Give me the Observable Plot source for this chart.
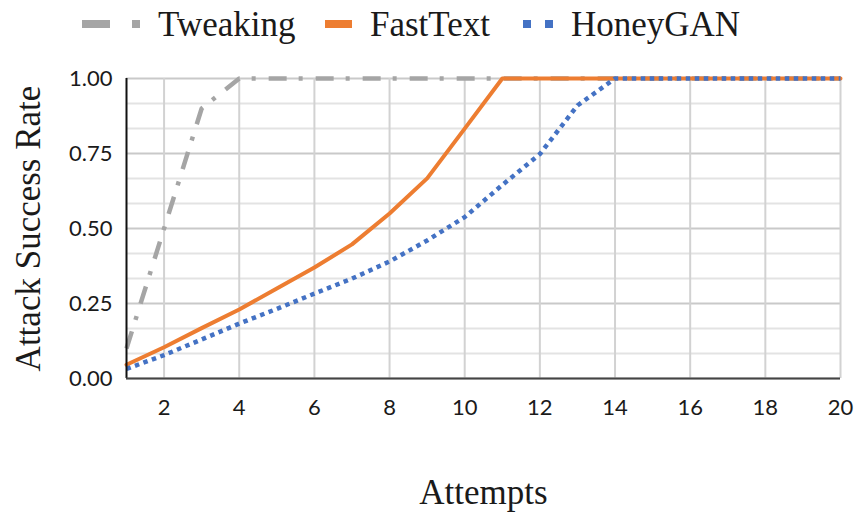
<!DOCTYPE html>
<html>
<head>
<meta charset="utf-8">
<script src="https://cdn.jsdelivr.net/npm/d3@7"></script>
<script src="https://cdn.jsdelivr.net/npm/@observablehq/plot@0.6"></script>
<style>
  html, body { margin: 0; padding: 0; background: #fff; }
  #legend { display: block; }
  #legend text { font-family: "Liberation Serif", "Times New Roman", serif; font-size: 35px; fill: #1a1a1a; }
  #chart svg { display: block; }
</style>
</head>
<body>
<svg id="legend" width="858" height="55"></svg>
<div id="chart"></div>
<script>
const attempts = [1,2,3,4,5,6,7,8,9,10,11,12,13,14,15,16,17,18,19,20];
const tweaking = [0.10,0.50,0.90,1,1,1,1,1,1,1,1,1,1,1,1,1,1,1,1,1];
const fasttext = [0.046,0.104,0.168,0.23,0.30,0.37,0.447,0.55,0.667,0.833,1,1,1,1,1,1,1,1,1,1];
const honeygan = [0.032,0.078,0.13,0.183,0.232,0.283,0.333,0.39,0.46,0.538,0.645,0.748,0.91,1,1,1,1,1,1,1];
const seriesNames = ["Tweaking","FastText","HoneyGAN"];
const seriesColors = ["#a5a5a5","#ed7d31","#4472c4"];
const xTicks = [2,4,6,8,10,12,14,16,18,20];
const yTicks = [0,0.25,0.5,0.75,1];
const yMinor = [1,2,4,5,7,8,10,11].map(k => k/12);

const rows = [];
[tweaking, fasttext, honeygan].forEach((vals, si) => {
  vals.forEach((v, i) => rows.push({series: seriesNames[si], x: attempts[i], y: v}));
});
const bySeries = name => rows.filter(d => d.series === name);

// Legend
const ns = "http://www.w3.org/2000/svg";
const leg = document.getElementById("legend");
function el(tag, attrs, text) {
  const e = document.createElementNS(ns, tag);
  for (const k in attrs) e.setAttribute(k, attrs[k]);
  if (text) e.textContent = text;
  leg.appendChild(e);
  return e;
}
el("rect", {x: 82, y: 20, width: 28, height: 8, fill: seriesColors[0]});
el("rect", {x: 132, y: 20, width: 8, height: 8, fill: seriesColors[0]});
el("text", {x: 158, y: 36}, seriesNames[0]);
el("rect", {x: 325, y: 20, width: 27, height: 8, fill: seriesColors[1]});
el("text", {x: 370, y: 36}, seriesNames[1]);
el("rect", {x: 523, y: 20, width: 8, height: 8, fill: seriesColors[2]});
el("rect", {x: 545, y: 20, width: 8, height: 8, fill: seriesColors[2]});
el("text", {x: 571, y: 36}, seriesNames[2]);

const serif = "'Liberation Serif', 'Times New Roman', serif";
const chart = Plot.plot({
  width: 858,
  height: 460,
  marginLeft: 126,
  marginRight: 18,
  marginTop: 23,
  marginBottom: 137,
  style: {fontFamily: "Lato, sans-serif", background: "#fff", color: "#1a1a1a"},
  x: {domain: [1, 20], type: "linear"},
  y: {domain: [0, 1]},
  marks: [
    Plot.ruleY(yMinor, {stroke: "#e3e3e3", strokeWidth: 2}),
    Plot.ruleY(yTicks, {stroke: "#c9c9c9", strokeWidth: 2}),
    Plot.ruleX(xTicks, {stroke: "#d2d2d2", strokeWidth: 2}),
    Plot.line(bySeries("Tweaking"), {x: "x", y: "y", stroke: seriesColors[0], strokeWidth: 4.5, strokeDasharray: "18,12,4,13", strokeLinecap: "butt", strokeLinejoin: "round"}),
    Plot.line(bySeries("FastText"), {x: "x", y: "y", stroke: seriesColors[1], strokeWidth: 4, strokeLinecap: "round", strokeLinejoin: "round"}),
    Plot.line(bySeries("HoneyGAN"), {x: "x", y: "y", stroke: seriesColors[2], strokeWidth: 4.5, strokeDasharray: "4.5,4.5", strokeLinecap: "butt", strokeLinejoin: "round"}),
    Plot.ruleX([1], {stroke: "#111", strokeWidth: 2}),
    Plot.ruleY([0], {stroke: "#444", strokeWidth: 2}),
    Plot.axisY({ticks: yTicks, tickFormat: d3.format(".2f"), tickSize: 0, tickPadding: 14, fontSize: 22, label: null}),
    Plot.axisX({ticks: xTicks, tickFormat: d => String(d), tickSize: 0, tickPadding: 21, fontSize: 22, label: null}),
    Plot.text(["Attempts"], {frameAnchor: "bottom", dy: 114, lineAnchor: "middle", textAnchor: "middle", fontFamily: serif, fontSize: 35, fill: "#1a1a1a"}),
    Plot.text(["Attack Success Rate"], {frameAnchor: "left", dx: -98, rotate: -90, lineAnchor: "middle", textAnchor: "middle", fontFamily: serif, fontSize: 35, fill: "#1a1a1a"})
  ]
});
document.getElementById("chart").appendChild(chart);
</script>
</body>
</html>
